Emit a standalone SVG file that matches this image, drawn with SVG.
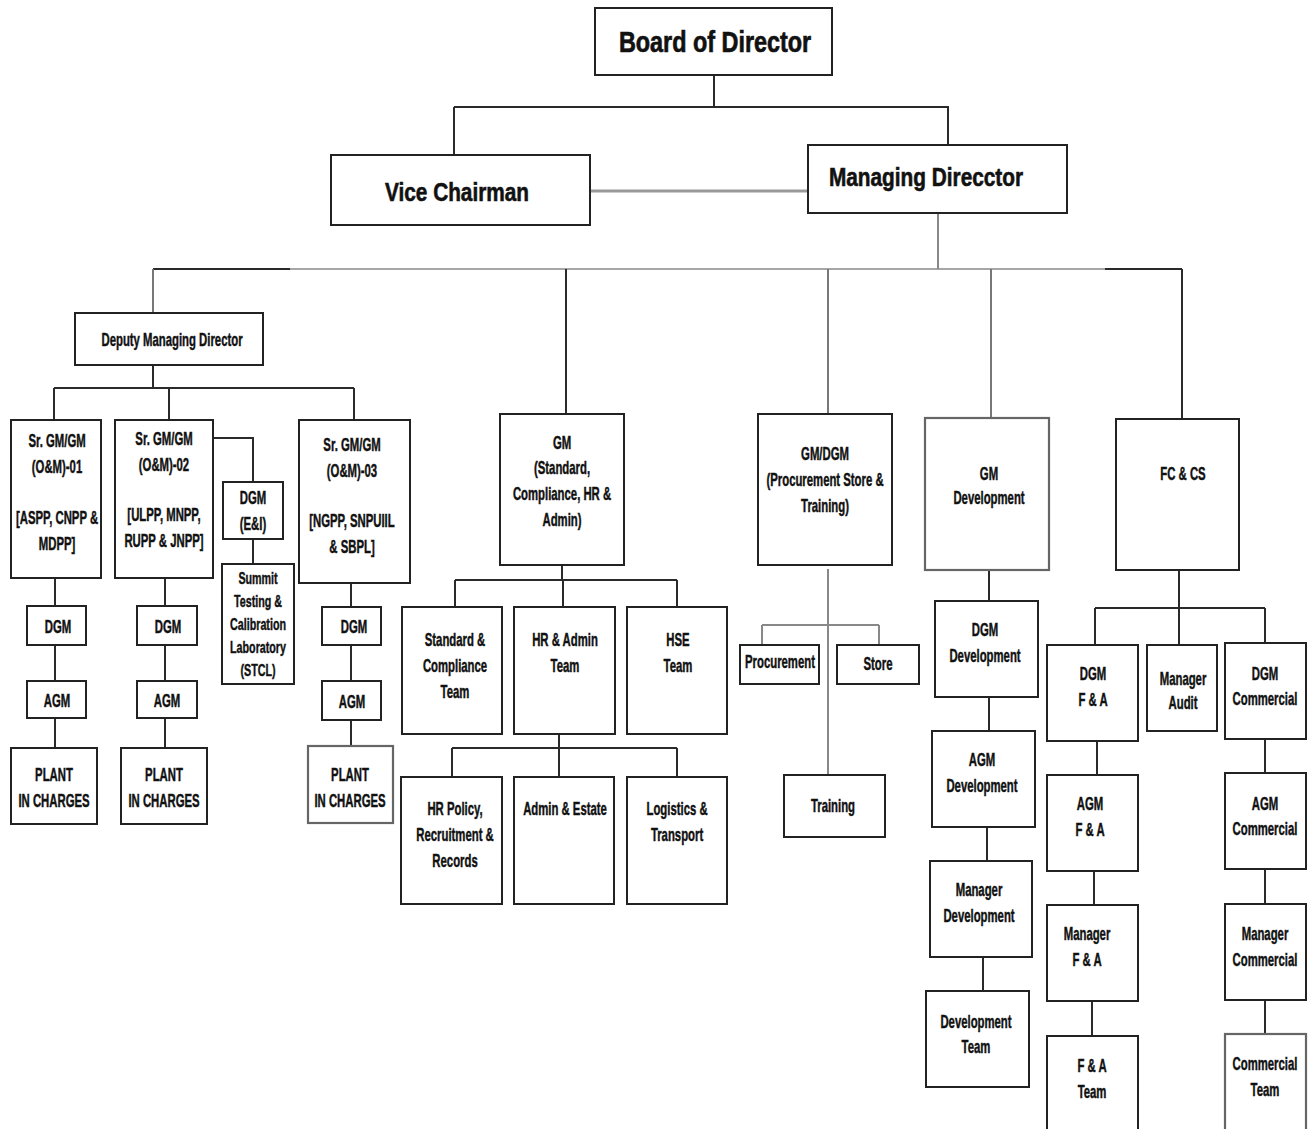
<svg xmlns="http://www.w3.org/2000/svg" width="1312" height="1129" viewBox="0 0 1312 1129">
<style>
.bg{fill:#fff}
.box{fill:#fff;stroke:#222;stroke-width:2}
.boxg{fill:#fff;stroke:#666;stroke-width:2.2}
.ln{fill:none;stroke:#2a2a2a;stroke-width:2}
.lg{fill:none;stroke:#888;stroke-width:2}
text{font-family:"Liberation Sans",Arial,sans-serif;font-weight:bold;fill:#111;stroke:#111;stroke-width:0.45;text-anchor:middle;font-size:18px;transform-box:fill-box;transform-origin:center;transform:scaleX(0.63)}
.s17{font-size:17px}
.big{font-size:30px;stroke-width:0.7;transform:scaleX(0.78)}
.mid{font-size:26px;stroke-width:0.6;transform:scaleX(0.80)}
</style>
<rect class="bg" x="0" y="0" width="1312" height="1129"/>
<g id="connectors">
<path class="ln" d="M714 75V107M454 107H949M454 107V155M948 107V145"/>
<path class="lg" d="M590 191H808" style="stroke-width:3;stroke:#999"/>
<path class="lg" d="M938 213V269"/>
<path class="ln" d="M153 269H290M1105 269H1182"/>
<path class="lg" d="M290 269H1105" style="stroke-width:1.5"/>
<path class="lg" d="M153 269V313M828 269V414M991 269V418" style="stroke:#777"/>
<path class="ln" d="M566 269V414M1182 269V418"/>
<path class="ln" d="M153 365V388M54 388H354M54 388V420M169 388V420M354 388V420"/>
<path class="ln" d="M213 438H253V482M253 539V564"/>
<path class="ln" d="M55 578V606M55 645V681M55 718V748"/>
<path class="ln" d="M165 578V606M165 645V681M165 718V748"/>
<path class="ln" d="M351 583V607M351 645V681M351 720V746"/>
<path class="ln" d="M562 565V580M455 580H677M455 580V607M563 580V607M677 580V607"/>
<path class="ln" d="M559 734V777M452 748H677M452 748V777M677 748V777"/>
<path class="lg" d="M828 569V775M762 625H879M762 625V645M879 625V645"/>
<path class="ln" d="M989 570V601M989 697V731M987 827V861M983 957V991"/>
<path class="ln" d="M1179 570V645M1095 608H1265M1095 608V645M1265 608V643"/>
<path class="ln" d="M1097 741V775M1094 871V905M1092 1001V1036"/>
<path class="ln" d="M1265 739V773M1265 869V904M1265 1000V1034"/>
</g>
<g id="board"><rect class="box" x="595" y="8" width="237" height="67"/><text class="big" x="715" y="52">Board of Director</text></g>
<g id="vice-chairman"><rect class="box" x="331" y="155" width="259" height="70"/><text class="mid" x="457" y="201">Vice Chairman</text></g>
<g id="managing-director"><rect class="box" x="808" y="145" width="259" height="68"/><text class="mid" x="926" y="186">Managing Direcctor</text></g>
<g id="dmd"><rect class="box" x="75" y="313" width="188" height="52"/><text x="172" y="346">Deputy Managing Director</text></g>
<g id="sr01"><rect class="box" x="11" y="420" width="90" height="158"/><text><tspan x="57" y="447">Sr. GM/GM</tspan><tspan x="57" y="473">(O&amp;M)-01</tspan><tspan x="57" y="524">[ASPP, CNPP &amp;</tspan><tspan x="57" y="550">MDPP]</tspan></text></g>
<g id="sr02"><rect class="box" x="115" y="420" width="98" height="158"/><text><tspan x="164" y="445">Sr. GM/GM</tspan><tspan x="164" y="471">(O&amp;M)-02</tspan><tspan x="164" y="521">[ULPP, MNPP,</tspan><tspan x="164" y="547">RUPP &amp; JNPP]</tspan></text></g>
<g id="dgm-ei"><rect class="box" x="223" y="482" width="60" height="57"/><text><tspan x="253" y="504">DGM</tspan><tspan x="253" y="530">(E&amp;I)</tspan></text></g>
<g id="stcl"><rect class="box" x="222" y="564" width="72" height="120"/><text class="s17"><tspan x="258" y="584">Summit</tspan><tspan x="258" y="607">Testing &amp;</tspan><tspan x="258" y="630">Calibration</tspan><tspan x="258" y="653">Laboratory</tspan><tspan x="258" y="676">(STCL)</tspan></text></g>
<g id="sr03"><rect class="box" x="299" y="420" width="111" height="163"/><text><tspan x="352" y="451">Sr. GM/GM</tspan><tspan x="352" y="477">(O&amp;M)-03</tspan><tspan x="352" y="527">[NGPP, SNPUIIL</tspan><tspan x="352" y="553">&amp; SBPL]</tspan></text></g>
<g id="dgm1"><rect class="box" x="27" y="606" width="59" height="39"/><text x="58" y="633">DGM</text></g>
<g id="agm1"><rect class="box" x="27" y="681" width="59" height="37"/><text x="57" y="707">AGM</text></g>
<g id="plant1"><rect class="box" x="11" y="748" width="86" height="76"/><text><tspan x="54" y="781">PLANT</tspan><tspan x="54" y="807">IN CHARGES</tspan></text></g>
<g id="dgm2"><rect class="box" x="137" y="606" width="60" height="39"/><text x="168" y="633">DGM</text></g>
<g id="agm2"><rect class="box" x="137" y="681" width="60" height="37"/><text x="167" y="707">AGM</text></g>
<g id="plant2"><rect class="box" x="121" y="748" width="86" height="76"/><text><tspan x="164" y="781">PLANT</tspan><tspan x="164" y="807">IN CHARGES</tspan></text></g>
<g id="dgm3"><rect class="box" x="322" y="607" width="59" height="38"/><text x="354" y="633">DGM</text></g>
<g id="agm3"><rect class="box" x="322" y="681" width="59" height="39"/><text x="352" y="708">AGM</text></g>
<g id="plant3"><rect class="boxg" x="308" y="746" width="85" height="77"/><text><tspan x="350" y="781">PLANT</tspan><tspan x="350" y="807">IN CHARGES</tspan></text></g>
<g id="gm-standard"><rect class="box" x="500" y="414" width="124" height="151"/><text><tspan x="562" y="449">GM</tspan><tspan x="562" y="474">(Standard,</tspan><tspan x="562" y="500">Compliance, HR &amp;</tspan><tspan x="562" y="526">Admin)</tspan></text></g>
<g id="std-team"><rect class="box" x="402" y="607" width="100" height="127"/><text><tspan x="455" y="646">Standard &amp;</tspan><tspan x="455" y="672">Compliance</tspan><tspan x="455" y="698">Team</tspan></text></g>
<g id="hr-admin-team"><rect class="box" x="514" y="607" width="101" height="127"/><text><tspan x="565" y="646">HR &amp; Admin</tspan><tspan x="565" y="672">Team</tspan></text></g>
<g id="hse-team"><rect class="box" x="627" y="607" width="100" height="127"/><text><tspan x="678" y="646">HSE</tspan><tspan x="678" y="672">Team</tspan></text></g>
<g id="hr-policy"><rect class="box" x="401" y="777" width="101" height="127"/><text><tspan x="455" y="815">HR Policy,</tspan><tspan x="455" y="841">Recruitment &amp;</tspan><tspan x="455" y="867">Records</tspan></text></g>
<g id="admin-estate"><rect class="box" x="514" y="777" width="100" height="127"/><text x="565" y="815">Admin &amp; Estate</text></g>
<g id="logistics"><rect class="box" x="627" y="777" width="100" height="127"/><text><tspan x="677" y="815">Logistics &amp;</tspan><tspan x="677" y="841">Transport</tspan></text></g>
<g id="gm-procurement"><rect class="box" x="758" y="414" width="134" height="151"/><text><tspan x="825" y="460">GM/DGM</tspan><tspan x="825" y="486">(Procurement Store &amp;</tspan><tspan x="825" y="512">Training)</tspan></text></g>
<g id="procurement"><rect class="box" x="740" y="645" width="79" height="39"/><text x="780" y="668">Procurement</text></g>
<g id="store"><rect class="box" x="837" y="645" width="82" height="39"/><text x="878" y="670">Store</text></g>
<g id="training"><rect class="box" x="784" y="775" width="101" height="62"/><text x="833" y="812">Training</text></g>
<g id="gm-development"><rect class="boxg" x="925" y="418" width="124" height="152"/><text><tspan x="989" y="480">GM</tspan><tspan x="989" y="504">Development</tspan></text></g>
<g id="dgm-development"><rect class="box" x="935" y="601" width="103" height="96"/><text><tspan x="985" y="636">DGM</tspan><tspan x="985" y="662">Development</tspan></text></g>
<g id="agm-development"><rect class="box" x="932" y="731" width="103" height="96"/><text><tspan x="982" y="766">AGM</tspan><tspan x="982" y="792">Development</tspan></text></g>
<g id="manager-development"><rect class="box" x="930" y="861" width="102" height="96"/><text><tspan x="979" y="896">Manager</tspan><tspan x="979" y="922">Development</tspan></text></g>
<g id="development-team"><rect class="box" x="926" y="991" width="103" height="96"/><text><tspan x="976" y="1028">Development</tspan><tspan x="976" y="1053">Team</tspan></text></g>
<g id="fc-cs"><rect class="box" x="1116" y="419" width="123" height="151"/><text x="1183" y="480">FC &amp; CS</text></g>
<g id="dgm-fa"><rect class="box" x="1047" y="645" width="91" height="96"/><text><tspan x="1093" y="680">DGM</tspan><tspan x="1093" y="706">F &amp; A</tspan></text></g>
<g id="manager-audit"><rect class="box" x="1147" y="645" width="70" height="86"/><text><tspan x="1183" y="685">Manager</tspan><tspan x="1183" y="709">Audit</tspan></text></g>
<g id="dgm-commercial"><rect class="box" x="1225" y="643" width="81" height="96"/><text><tspan x="1265" y="680">DGM</tspan><tspan x="1265" y="705">Commercial</tspan></text></g>
<g id="agm-fa"><rect class="box" x="1047" y="775" width="91" height="96"/><text><tspan x="1090" y="810">AGM</tspan><tspan x="1090" y="836">F &amp; A</tspan></text></g>
<g id="manager-fa"><rect class="box" x="1047" y="905" width="91" height="96"/><text><tspan x="1087" y="940">Manager</tspan><tspan x="1087" y="966">F &amp; A</tspan></text></g>
<g id="fa-team"><rect class="box" x="1047" y="1036" width="91" height="110"/><text><tspan x="1092" y="1072">F &amp; A</tspan><tspan x="1092" y="1098">Team</tspan></text></g>
<g id="agm-commercial"><rect class="box" x="1225" y="773" width="81" height="96"/><text><tspan x="1265" y="810">AGM</tspan><tspan x="1265" y="835">Commercial</tspan></text></g>
<g id="manager-commercial"><rect class="box" x="1225" y="904" width="81" height="96"/><text><tspan x="1265" y="940">Manager</tspan><tspan x="1265" y="966">Commercial</tspan></text></g>
<g id="commercial-team"><rect class="boxg" x="1225" y="1034" width="81" height="110"/><text><tspan x="1265" y="1070">Commercial</tspan><tspan x="1265" y="1096">Team</tspan></text></g>
</svg>
